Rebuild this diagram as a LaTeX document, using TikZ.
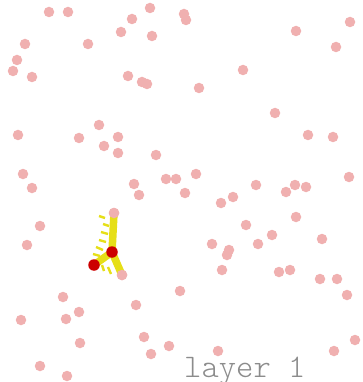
\documentclass[tikz,border=0pt]{standalone}
\usepackage{fontspec}
\setmonofont{Latin Modern Mono Light}
\usepackage{tikz}
\usepackage{xcolor}
\usetikzlibrary{positioning}

\definecolor{dotpink}{RGB}{240,176,176}
\definecolor{dotred}{RGB}{204,0,0}
\definecolor{edgeyellow}{RGB}{230,223,24}
\definecolor{labelgray}{RGB}{140,140,140}

\begin{document}
\begin{tikzpicture}[x=1pt, y=-1pt,
    pinkdot/.style={circle, fill=dotpink, inner sep=0pt, minimum size=10.5pt},
    reddot/.style={circle, fill=dotred, inner sep=0pt, minimum size=11.5pt},
    branch/.style={edgeyellow, line width=7.5pt},
    tick/.style={edgeyellow, line width=2.4pt}]
            \useasboundingbox (0,0) rectangle (362,382);
            % scattered points
            \foreach \x/\y [count=\i] in {49/12, 68/12, 150/8, 132/19, 121/32, 152/36, 184/14, 186/20,
                350/22, 296/31, 336/47, 25/44, 88/44, 17/60, 13/71, 32/77, 128/76, 142/82, 147/84,
                243/70, 199/88, 275/113, 99/125, 18/135, 79/138, 118/137, 104/146, 118/153, 156/155,
                308/135, 333/137, 23/174, 32/188, 134/184, 166/179, 176/179, 196/174, 349/177,
                256/185, 295/185, 306/187, 286/192, 185/193, 139/195, 221/203, 233/197, 296/217,
                40/226, 246/225, 272/235, 322/239, 27/245, 212/244, 258/244, 229/250, 227/255,
                222/270, 279/272, 290/270, 320/279, 337/279, 180/291, 347/295, 63/297, 136/305,
                79/312, 66/319, 21/320, 144/337, 80/343, 169/346, 151/354, 355/340, 334/351,
                218/351, 40/366, 67/376}
                \node[pinkdot] (p\i) at (\x,\y) {};
            % the tree
            \node[pinkdot] (top) at (114,213) {};
            \node[pinkdot] (leaf) at (122,275) {};
            \coordinate (hub) at (112,252);
            \coordinate (tip) at (94,265);
            \draw[branch] (top.center) -- (hub) -- (tip);
            \draw[branch] (hub) -- (leaf.center);
            \draw[tick] (99,216) -- (105,218);
            \draw[tick] (103,224) -- (109,226);
            \draw[tick] (101,232) -- (108,234);
            \draw[tick] (99,240) -- (106,242);
            \draw[tick] (96,247) -- (103,250);
            \draw[tick] (93,254) -- (100,256);
            \draw[tick] (102,265) -- (104,271);
            \draw[tick] (108,267) -- (111,274);
            \node[pinkdot] at (top) {};
            \node[pinkdot] at (leaf) {};
            \node[reddot] (hubdot) at (hub) {};
            \node[reddot] (tipdot) at (tip) {};
            \node[anchor=base west, inner sep=0pt, text=labelgray,
                font=\ttfamily\fontsize{33}{33}\selectfont] (layer) at (184,377) {layer 1};
        \end{tikzpicture}
\end{document}
